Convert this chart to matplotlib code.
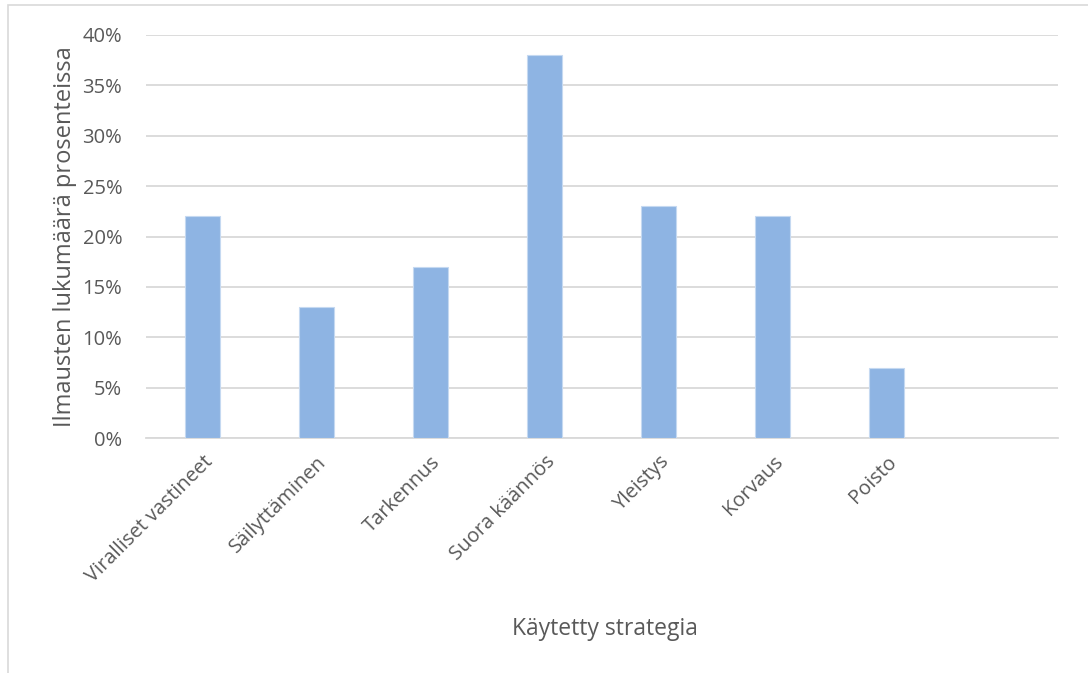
import matplotlib.pyplot as plt
from matplotlib.patches import Rectangle
from matplotlib.ticker import PercentFormatter

categories = ["Viralliset vastineet", "Säilyttäminen", "Tarkennus", "Suora käännös",
              "Yleistys", "Korvaus", "Poisto"]
values = [22, 13, 17, 38, 23, 22, 7]
yticks = [0, 5, 10, 15, 20, 25, 30, 35, 40]

plt.rcParams['font.family'] = ['Open Sans', 'DejaVu Sans']
text_color = '#595959'
grid_color = '#d9d9d9'

fig = plt.figure(figsize=(10.88, 6.73), dpi=100)
ax = fig.add_axes([0.134, 0.349, 0.838, 0.599])

# frame of the chart area (top and left edges visible)
fig.patches.append(Rectangle((8 / 1088, -0.1), 1.2, 1.1 - 5 / 673,
                             transform=fig.transFigure, fill=False,
                             edgecolor=grid_color, linewidth=1.2))

x = list(range(len(categories)))
ax.bar(x, values, width=0.31, color='#8eb4e3', edgecolor='#c5d9f1', linewidth=0.8, zorder=3)

ax.set_xlim(-0.5, len(categories) + 0.5)
ax.set_ylim(0, 40)
ax.set_yticks(yticks)
ax.yaxis.set_major_formatter(PercentFormatter(decimals=0))
ax.grid(axis='y', color=grid_color, linewidth=1.3, zorder=0)
for s in ['top', 'right', 'left']:
    ax.spines[s].set_visible(False)
ax.spines['bottom'].set_color(grid_color)
ax.spines['bottom'].set_linewidth(1.3)

ax.set_xticks(x)
ax.set_xticklabels(categories, rotation=45, ha='right', rotation_mode='anchor',
                   fontsize=14.5, color=text_color)
ax.tick_params(axis='x', length=0, pad=10)
ax.tick_params(axis='y', length=0, pad=17, labelsize=14.5, labelcolor=text_color)

ax.set_ylabel('Ilmausten lukumäärä prosenteissa', fontsize=17, color=text_color, labelpad=4)
fig.text(605 / 1088, 1 - 629 / 673, 'Käytetty strategia', fontsize=16.5, color=text_color,
         ha='center', va='center')

fig.savefig('out.png', dpi=100)
